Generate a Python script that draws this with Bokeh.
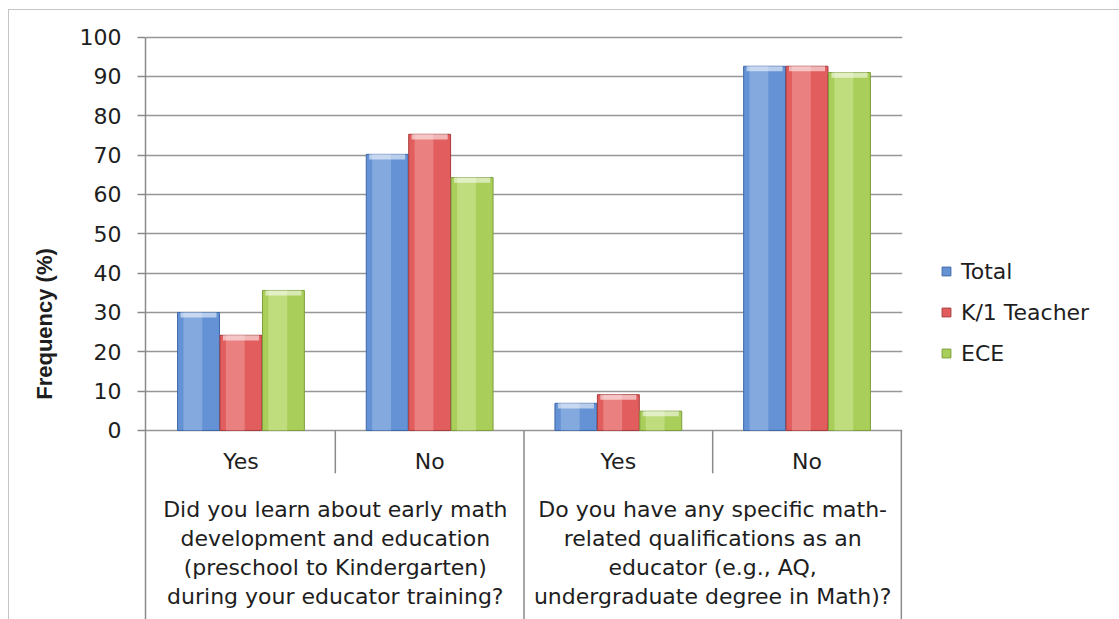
from bokeh.plotting import figure
from bokeh.models import (FactorRange, ColumnDataSource, FixedTicker, Legend,
                          LegendItem, Range1d)
from bokeh.transform import dodge
from bokeh.core.properties import value
from bokeh.embed import file_html
from bokeh.resources import INLINE

# ---------------- data ----------------
questions = ["Q1", "Q2"]
answers = ["Yes", "No"]
question_labels = [
    "Did you learn about early math\ndevelopment and education\n(preschool to Kindergarten)\nduring your educator training?",
    "Do you have any specific math-\nrelated qualifications as an\neducator (e.g., AQ,\nundergraduate degree in Math)?",
]
series = ["Total", "K/1 Teacher", "ECE"]
total = [30.0, 70.2, 6.9, 92.6]
k1_teacher = [24.2, 75.3, 9.1, 92.6]
ece = [35.6, 64.3, 4.9, 91.0]
y_ticks = [0, 10, 20, 30, 40, 50, 60, 70, 80, 90, 100]

# ---------------- styling ----------------
WIDE = "DejaVu Sans"
FONT = value(WIDE)
base_colors = ["#6492d4", "#e25d5d", "#a9cf5a"]
edge_colors = ["#3d68a8", "#a83a3a", "#7d9e3a"]
light_colors = ["#a9c6ec", "#f4aaaa", "#dcedaa"]
offsets = [-0.225, 0.0, 0.225]
BAR_W = 0.222
Y_LO, Y_HI = -48.06, 102.2

factors = [(q, a) for q in questions for a in answers]
src = ColumnDataSource(data=dict(
    x=factors,
    Total=total,
    K1=k1_teacher,
    ECE=ece,
    Total_rim=[v - 1.3 for v in total],
    K1_rim=[v - 1.3 for v in k1_teacher],
    ECE_rim=[v - 1.3 for v in ece],
))
cols = ["Total", "K1", "ECE"]

p = figure(
    frame_width=757, frame_height=591,
    x_range=FactorRange(*factors, factor_padding=0, group_padding=0,
                        range_padding=0.003),
    y_range=Range1d(Y_LO, Y_HI),
    x_axis_location=None,
    output_backend="svg", toolbar_location=None,
    min_border_left=136, min_border_right=200,
    min_border_top=18, min_border_bottom=0,
)
p.styles = {"margin-left": "8px", "margin-top": "9px",
            "border-left": "1px solid #c4c4c4", "border-top": "1px solid #c4c4c4"}
p.outline_line_color = None
p.background_fill_color = "white"
p.border_fill_color = "white"

# grid
p.xgrid.visible = False
p.ygrid.ticker = FixedTicker(ticks=y_ticks)
p.ygrid.grid_line_color = "#969696"
p.ygrid.grid_line_width = 1.6

# y axis
ax = p.yaxis[0]
ax.ticker = FixedTicker(ticks=y_ticks)
ax.bounds = (Y_LO, 100)
ax.axis_line_color = "#8a8a8a"
ax.axis_line_width = 1.5
ax.major_tick_line_color = "#8a8a8a"
ax.major_tick_line_width = 1.5
ax.major_tick_out = 8
ax.major_tick_in = 0
ax.minor_tick_out = 0
ax.minor_tick_in = 0
ax.major_label_standoff = 16
ax.major_label_text_font = WIDE
ax.major_label_text_font_size = "22px"
ax.major_label_text_color = "#1e1e1e"
ax.axis_label = "Frequency (%)"
ax.axis_label_text_font = "Liberation Sans"
ax.axis_label_text_font_size = "22px"
ax.axis_label_text_font_style = "bold"
ax.axis_label_text_color = "#1e1e1e"
ax.axis_label_standoff = 20

# bars (gel-like look built from layered bars)
for col, off, bc, ec, lc in zip(cols, offsets, base_colors, edge_colors, light_colors):
    xd = dodge("x", off, range=p.x_range)
    p.vbar(x=xd, top=col, bottom=0, width=BAR_W, source=src,
           fill_color=bc, line_color=ec, line_width=1)
    xh = dodge("x", off - 0.03, range=p.x_range)
    p.vbar(x=xh, top=col, bottom=0, width=BAR_W * 0.45, source=src,
           fill_color=lc, fill_alpha=0.45, line_color=None)
    p.vbar(x=xd, top=col, bottom=col + "_rim", width=BAR_W * 0.86, source=src,
           fill_color="white", fill_alpha=0.55, line_color=None)

# separators below the axis
p.segment(x0=[1, 3], y0=[0, 0], x1=[1, 3], y1=[-10.9, -10.9],
          line_color="#8a8a8a", line_width=1.5)
p.segment(x0=[2, 4], y0=[0, 0], x1=[2, 4], y1=[Y_LO, Y_LO],
          line_color="#8a8a8a", line_width=1.5)

# category labels
p.text(x=factors, y=[-8.0] * len(factors), text=[f[1] for f in factors],
       text_align="center", text_baseline="middle", text_font=FONT,
       text_font_size="22px", text_color="#1e1e1e")
p.text(x=questions, y=[-17.0] * len(questions), text=question_labels,
       text_align="center", text_baseline="top", text_font=FONT,
       text_font_size="22px", text_color="#1e1e1e", text_line_height=1.15)

# legend glyphs (square markers, drawn at size 0 so only the legend shows them)
items = []
for name, col, bc, ec in zip(series, cols, base_colors, edge_colors):
    r = p.scatter(x="x", y=col, source=src, size=0, marker="square",
                  fill_color=bc, line_color=ec)
    items.append(LegendItem(label=name, renderers=[r]))
legend = Legend(items=items, location=(33, 253), glyph_width=22, glyph_height=26,
                label_height=26, spacing=15, label_standoff=4, padding=0, margin=0,
                border_line_color=None, background_fill_alpha=0,
                label_text_font=WIDE, label_text_font_size="22px",
                label_text_color="#1e1e1e")
p.add_layout(legend, "right")

open("out.html", "w").write(file_html(p, INLINE))
